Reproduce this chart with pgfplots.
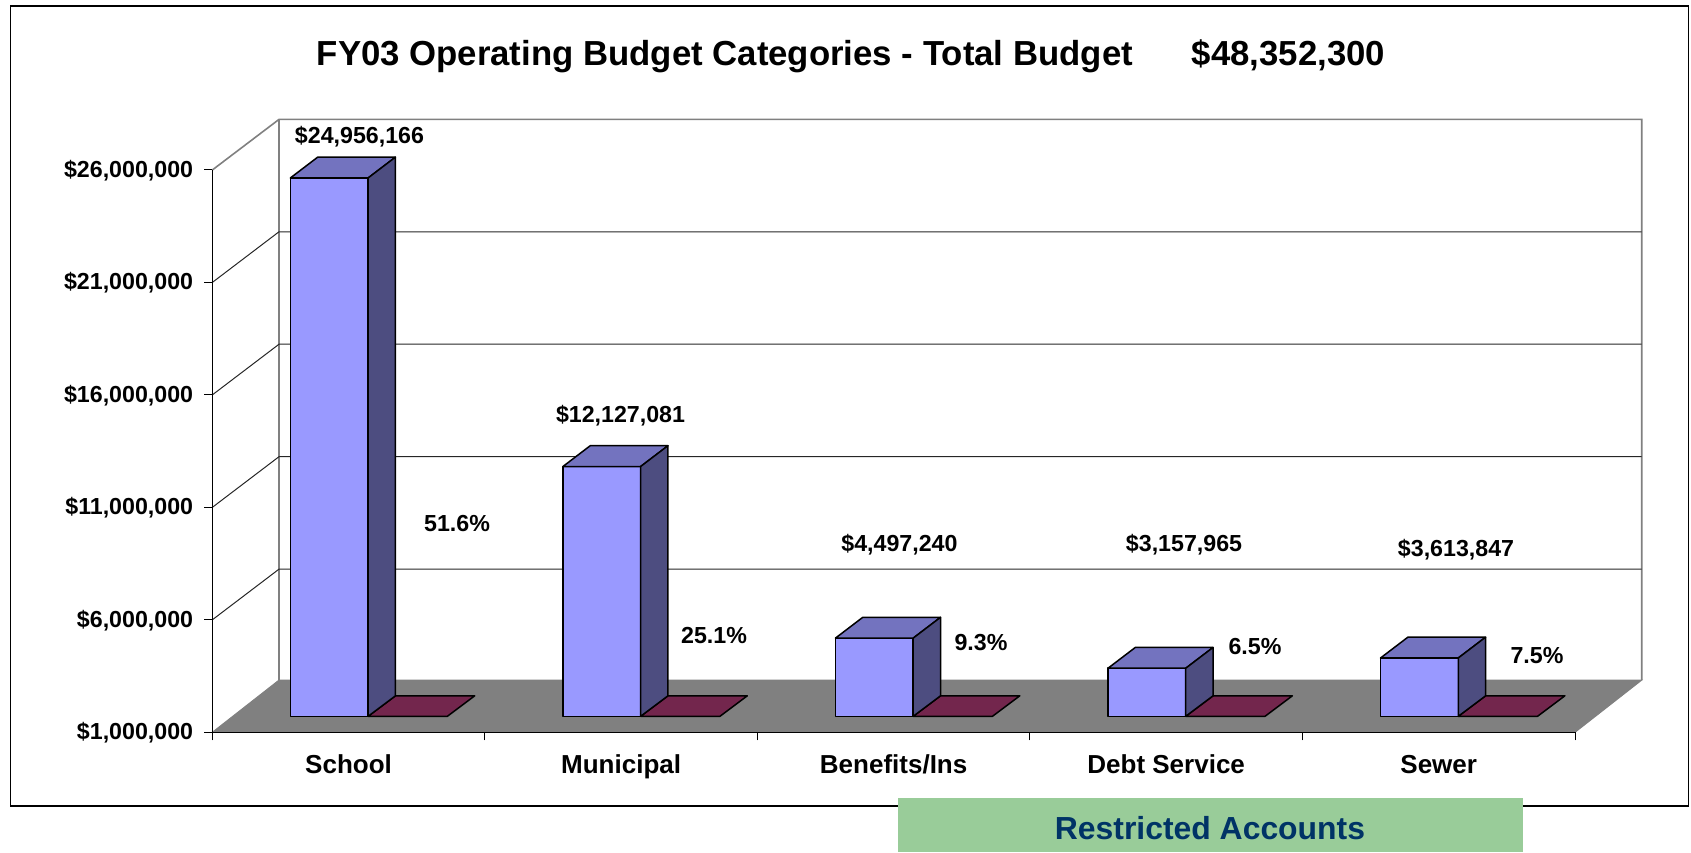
\documentclass[border=0pt]{standalone}
\usepackage{fontspec}
\setmainfont{Liberation Sans}
\usepackage{pgfplots}
\pgfplotsset{compat=1.18}

\definecolor{barfront}{HTML}{9999FF}
\definecolor{bartop}{HTML}{7373BF}
\definecolor{barside}{HTML}{4D4D80}
\definecolor{restricted}{HTML}{73264D}
\definecolor{floorgray}{HTML}{808080}
\definecolor{noteback}{HTML}{99CC99}
\definecolor{notetext}{HTML}{003366}

\tikzset{
  barline/.style={draw=black,line width=1.5pt,line join=round},
  wallline/.style={draw=floorgray,line width=1.6pt},
  gridline/.style={draw=black!85,line width=1pt},
  val/.style={font=\bfseries\fontsize{23.2}{26}\selectfont,inner sep=0pt,anchor=center}
}

% One category: the dollar column (front, top, side) and the flat percentage
% column beside it. #1 is the category's left edge, #2 the dollar amount.
\newcommand{\BudgetBar}[2]{%
  \edef\xa{\fpeval{#1+0.2865}}\edef\xb{\fpeval{#1+0.5717}}%
  \edef\xc{\fpeval{#1+0.6719}}\edef\xd{\fpeval{#1+0.3867}}%
  \edef\xe{\fpeval{#1+0.8627}}\edef\xf{\fpeval{#1+0.9629}}%
  \edef\yt{\fpeval{#2+690000}}\edef\yb{\fpeval{#2+690000+925000}}%
  \addplot[barline,fill=restricted] coordinates {(\xb,1711400)(\xe,1711400)(\xf,2622400)(\xc,2622400)} -- cycle;
  \addplot[barline,fill=barfront] coordinates {(\xa,1711400)(\xb,1711400)(\xb,\yt)(\xa,\yt)} -- cycle;
  \addplot[barline,fill=bartop] coordinates {(\xa,\yt)(\xb,\yt)(\xc,\yb)(\xd,\yb)} -- cycle;
  \addplot[barline,fill=barside] coordinates {(\xb,1711400)(\xc,2622400)(\xc,\yb)(\xb,\yt)} -- cycle;
}

\begin{document}
\begin{tikzpicture}[x=1pt,y=1pt]
\path[use as bounding box] (0,0) rectangle (1691,852);
\draw[black,line width=1.5pt] (10.3,46) rectangle (1688.5,846);

\begin{axis}[
  at={(212.3pt,119.7pt)},anchor=south west,
  scale only axis,width=1362.7pt,height=562.3pt,
  xmin=0,xmax=5,ymin=1000000,ymax=26000000,
  enlargelimits=false,clip=false,axis on top=true,
  axis x line=bottom,axis y line=left,
  axis line style={-,line width=1.2pt,black},
  scaled y ticks=false,
  tick align=outside,
  xtick={0.5,1.5,2.5,3.5,4.5},
  xticklabels={School,Municipal,Benefits/Ins,Debt Service,Sewer},
  minor xtick={0,1,2,3,4,5},
  ytick={1000000,6000000,11000000,16000000,21000000,26000000},
  yticklabels={{\$1,000,000},{\$6,000,000},{\$11,000,000},{\$16,000,000},{\$21,000,000},{\$26,000,000}},
  major x tick style={draw=none},
  major tick length=8pt,minor tick length=8pt,
  y tick style={black,line width=1pt},
  minor x tick style={black,line width=1pt},
  x tick label style={font=\bfseries\fontsize{26}{28}\selectfont,anchor=base,yshift=-33pt,inner sep=0pt},
  y tick label style={font=\bfseries\fontsize{23.2}{26}\selectfont,anchor=east,xshift=-11pt,yshift=-0.5pt,inner sep=0pt},
]
% floor and back wall
\addplot[draw=none,fill=floorgray] coordinates {(0,1000000)(5,1000000)(5.2448,3321000)(0.2448,3321000)} -- cycle;
\addplot[wallline] coordinates {(0,26000000)(0.2448,28250000)(5.2448,28250000)(5.2448,3321000)};
\addplot[wallline] coordinates {(0.2448,28250000)(0.2448,3321000)};
\addplot[wallline,line width=1pt] coordinates {(0,1000000)(0.2448,3321000)(5.2448,3321000)(5,1000000)};
% gridlines across the side wall and back wall
\addplot[gridline] coordinates {(0,6000000)(0.2448,8254000)(5.2448,8254000)};
\addplot[gridline] coordinates {(0,11000000)(0.2448,13254000)(5.2448,13254000)};
\addplot[gridline] coordinates {(0,16000000)(0.2448,18254000)(5.2448,18254000)};
\addplot[gridline] coordinates {(0,21000000)(0.2448,23254000)(5.2448,23254000)};
% budget categories
\BudgetBar{0}{24956166}
\BudgetBar{1}{12127081}
\BudgetBar{2}{4497240}
\BudgetBar{3}{3157965}
\BudgetBar{4}{3613847}
\end{axis}

% title, value and share labels (y measured up from the page's lower edge)
\node[font=\bfseries\fontsize{34.75}{38}\selectfont,inner sep=0pt] at (851,796) {FY03 Operating Budget Categories - Total Budget\hspace{59pt}\$48,352,300};
\node[val] at (359.5,715.5) {\$24,956,166};
\node[val] at (620.5,436.5) {\$12,127,081};
\node[val] at (899.4,307) {\$4,497,240};
\node[val] at (1184,307) {\$3,157,965};
\node[val] at (1456,302.5) {\$3,613,847};
\node[val] at (457,328) {51.6\%};
\node[val] at (714,216) {25.1\%};
\node[val] at (981,209) {9.3\%};
\node[val] at (1255,205) {6.5\%};
\node[val] at (1537,196) {7.5\%};

% note below the frame
\fill[noteback] (898,0) rectangle (1523,54);
\node[font=\bfseries\fontsize{31.9}{35}\selectfont,text=notetext,inner sep=0pt] at (1210,24) {Restricted Accounts};
\end{tikzpicture}
\end{document}
